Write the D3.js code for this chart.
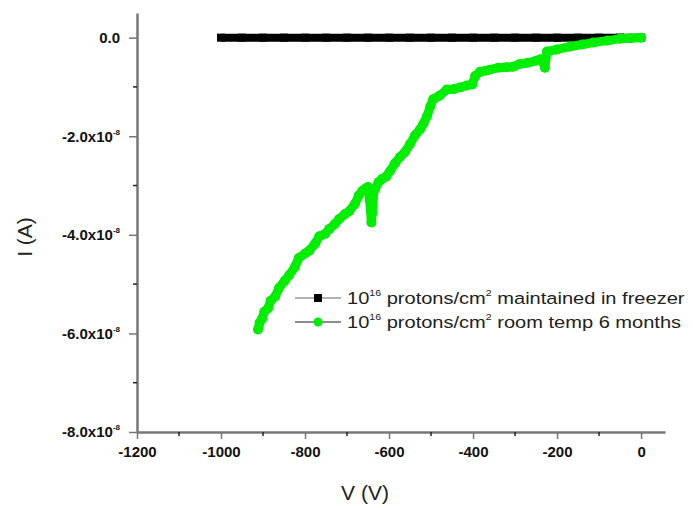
<!DOCTYPE html>
<html>
<head>
<meta charset="utf-8">
<script src="https://cdn.jsdelivr.net/npm/d3@7"></script>
<style>
  body { margin: 0; background: #fff; }
  svg { font-family: "Liberation Sans", Arial, sans-serif; }
  .axis path, .axis line { stroke: #777; }
  .axis text { font-weight: bold; font-size: 15px; fill: #111; font-family: "Liberation Sans", Arial, sans-serif; }
</style>
</head>
<body>
<div id="chart_wrapper"></div>
<script>
var width = 693, height = 508;

// x ticks (V), y ticks (units of 1e-8 A)
var xMajor = [-1200, -1000, -800, -600, -400, -200, 0];
var xMinor = [-1100, -900, -700, -500, -300, -100];
var yMajor = [0, -2, -4, -6, -8];
var yMinor = [-1, -3, -5, -7];

// freezer sample: flat at zero from -1000 V to 0 V
var freezerV = [-1000, -950, -900, -850, -800, -750, -700, -650, -600, -550, -500, -450, -400, -350, -300, -250, -200, -150, -100, -50, 0];
var freezerI = [0, 0, 0, 0, 0, 0, 0, 0, 0, 0, 0, 0, 0, 0, 0, 0, 0, 0, 0, 0, 0];

// room temp sample (I in 1e-8 A)
var roomV = [-912, -908, -902, -897, -888, -882, -871, -862, -848, -838, -824, -815, -800, -790, -776, -766, -752, -742, -729, -719, -705, -695, -681, -672, -664, -656, -650, -646, -642, -640, -636, -633, -625, -617, -607, -598, -586, -574, -562, -550, -538, -526, -518, -510, -502, -495, -480, -462, -445, -431, -415, -402, -395, -383, -370, -360, -340, -320, -305, -290, -270, -250, -240, -232, -229, -224, -200, -169, -140, -114, -80, -50, -25, 0];
var roomI = [-5.92, -5.78, -5.70, -5.56, -5.49, -5.34, -5.25, -5.08, -4.93, -4.82, -4.65, -4.47, -4.38, -4.32, -4.18, -4.03, -3.98, -3.88, -3.78, -3.68, -3.58, -3.52, -3.37, -3.20, -3.11, -3.06, -3.03, -3.30, -3.75, -3.55, -3.10, -3.07, -2.93, -2.87, -2.82, -2.71, -2.55, -2.42, -2.32, -2.16, -1.98, -1.86, -1.74, -1.60, -1.40, -1.25, -1.18, -1.05, -1.04, -1.01, -0.97, -0.95, -0.78, -0.69, -0.67, -0.65, -0.61, -0.60, -0.59, -0.54, -0.51, -0.47, -0.44, -0.52, -0.61, -0.28, -0.24, -0.18, -0.14, -0.10, -0.06, -0.02, -0.01, 0];

var legendLabels = ["maintained in freezer", "room temp 6 months"];

var svg = d3.select("#chart_wrapper").append("svg")
    .attr("width", width).attr("height", height);

var x = d3.scaleLinear().domain([-1200, 57]).range([137, 665]);
var y = d3.scaleLinear().domain([-8, 0.5]).range([432, 13]);

// axes
var yAxis = svg.append("g").attr("class", "axis").attr("transform", "translate(137,0)")
    .call(d3.axisLeft(y).tickValues(yMajor).tickSize(8).tickSizeOuter(0).tickPadding(9).tickFormat(""));
yAxis.select(".domain").attr("stroke-width", 2.5);
yAxis.selectAll(".tick line").attr("stroke", "#222").attr("stroke-width", 1.5);
yAxis.selectAll(".tick text").each(function(d) {
    var t = d3.select(this);
    if (d === 0) { t.text("0.0"); return; }
    t.append("tspan").text(d.toFixed(1) + "x10");
    t.append("tspan").attr("dy", -7).attr("font-size", 8).text("-8");
});
svg.append("g").attr("transform", "translate(137,0)")
    .selectAll("line").data(yMinor).enter().append("line")
    .attr("x1", -4).attr("x2", 0).attr("y1", d => y(d)).attr("y2", d => y(d))
    .attr("stroke", "#222").attr("stroke-width", 1.5);

var xAxis = svg.append("g").attr("class", "axis").attr("transform", "translate(0,432)")
    .call(d3.axisBottom(x).tickValues(xMajor).tickSize(7).tickSizeOuter(0).tickPadding(7).tickFormat(d => String(d)));
xAxis.select(".domain").attr("stroke-width", 2.5);
xAxis.selectAll(".tick line").attr("stroke", "#222").attr("stroke-width", 1.5);
svg.append("g").attr("transform", "translate(0,432)")
    .selectAll("line").data(xMinor).enter().append("line")
    .attr("x1", d => x(d)).attr("x2", d => x(d)).attr("y1", 0).attr("y2", 4)
    .attr("stroke", "#222").attr("stroke-width", 1.5);

// axis titles
svg.append("text").attr("x", 365).attr("y", 500).attr("text-anchor", "middle")
    .attr("font-size", 21).attr("fill", "#222").text("V (V)");
svg.append("text").attr("transform", "translate(32,237) rotate(-90)").attr("text-anchor", "middle")
    .attr("font-size", 21).attr("fill", "#222").text("I (A)");

// series
var freezer = freezerV.map((v, i) => ({v: v, i: freezerI[i]}));
var room = roomV.map((v, i) => ({v: v, i: roomI[i]}));

var line = d3.line().x(d => x(d.v)).y(d => y(d.i));

svg.append("path").attr("d", line(freezer)).attr("fill", "none")
    .attr("stroke", "#000").attr("stroke-width", 8);
svg.selectAll(".sq").data(freezer).enter().append("rect").attr("class", "sq")
    .attr("x", d => x(d.v) - 4).attr("y", d => y(d.i) - 4).attr("width", 8).attr("height", 8).attr("fill", "#000");

svg.append("path").attr("d", line(room)).attr("fill", "none")
    .attr("stroke", "#0e0").attr("stroke-width", 9).attr("stroke-linejoin", "round").attr("stroke-linecap", "round");
svg.selectAll(".dot").data(room).enter().append("circle").attr("class", "dot")
    .attr("cx", d => x(d.v)).attr("cy", d => y(d.i)).attr("r", 5).attr("fill", "#0e0");

// legend
var legend = svg.append("g").attr("transform", "translate(295,298)");
legendLabels.forEach(function(lab, k) {
    var g = legend.append("g").attr("transform", "translate(0," + (k * 24) + ")");
    g.append("line").attr("x1", 0).attr("x2", 46).attr("y1", 0).attr("y2", 0)
        .attr("stroke", k === 0 ? "#999" : "#666").attr("stroke-width", 1.5);
    if (k === 0) g.append("rect").attr("x", 19).attr("y", -4).attr("width", 8).attr("height", 8).attr("fill", "#000");
    else g.append("circle").attr("cx", 23).attr("cy", 0).attr("r", 4.5).attr("fill", "#0e0");
    var t = g.append("text").attr("transform", "translate(52,6) scale(1.18,1)")
        .attr("font-size", 17).attr("fill", "#222");
    t.append("tspan").text("10");
    t.append("tspan").attr("dy", -8).attr("font-size", 9).text("16");
    t.append("tspan").attr("dy", 8).text(" protons/cm");
    t.append("tspan").attr("dy", -8).attr("font-size", 9).text("2");
    t.append("tspan").attr("dy", 8).text(" " + lab);
});
</script>
</body>
</html>
